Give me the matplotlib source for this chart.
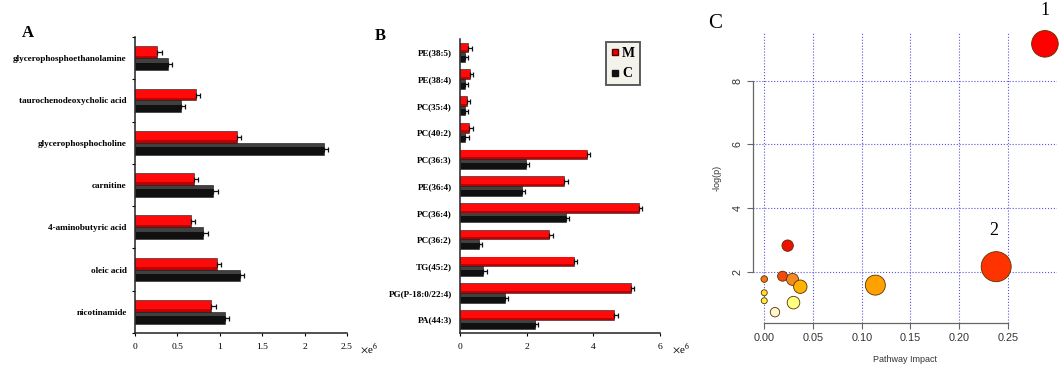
import numpy as np
import matplotlib
matplotlib.use('Agg')
import matplotlib.pyplot as plt
from matplotlib.lines import Line2D

plt.rcParams['mathtext.fontset'] = 'stix'
serif = 'Liberation Serif'
sans = 'Liberation Sans'

# panel A
a_names = ['glycerophosphoethanolamine', 'taurochenodeoxycholic acid', 'glycerophosphocholine',
           'carnitine', '4-aminobutyric acid', 'oleic acid', 'nicotinamide']
a_m = [0.26, 0.72, 1.20, 0.69, 0.66, 0.97, 0.90]
a_c = [0.39, 0.54, 2.23, 0.92, 0.80, 1.24, 1.06]
a_m_err = [0.06, 0.05, 0.05, 0.05, 0.05, 0.05, 0.05]
a_c_err = [0.05, 0.05, 0.05, 0.06, 0.06, 0.05, 0.05]

# panel B
b_names = ['PE(38:5)', 'PE(38:4)', 'PC(35:4)', 'PC(40:2)', 'PC(36:3)', 'PE(36:4)',
           'PC(36:4)', 'PC(36:2)', 'TG(45:2)', 'PG(P-18:0/22:4)', 'PA(44:3)']
b_m = [0.25, 0.30, 0.20, 0.28, 3.80, 3.13, 5.36, 2.68, 3.41, 5.12, 4.63]
b_c = [0.15, 0.15, 0.14, 0.16, 1.98, 1.85, 3.17, 0.57, 0.70, 1.35, 2.25]
b_m_err = [0.1] * 11
b_c_err = [0.1] * 11

# panel C
impact = [0.288, 0.238, 0.024, 0.0188, 0.029, 0.037, 0.114, 0.0, 0.0, 0.0, 0.030, 0.011]
logp = [9.16, 2.16, 2.82, 1.86, 1.76, 1.53, 1.58, 1.77, 1.34, 1.09, 1.03, 0.73]
node_r = [13.3, 15, 5.7, 5, 6, 6.7, 10, 3.3, 3, 3, 6.3, 4.7]
node_col = ['#ff0000', '#ff3300', '#ee1100', '#f04a10', '#f58a20', '#ffb300', '#ffa200',
            '#f07818', '#ffe030', '#fff040', '#ffff80', '#fbf8d0']
labeled = {0: '1', 1: '2'}

W, H = 1062, 366
fig = plt.figure(figsize=(W / 100, H / 100), dpi=100)


def px_axes(l, t, r, b):
    return fig.add_axes([l / W, 1 - b / H, (r - l) / W, (b - t) / H])


def bars(ax, names, m, c, m_err, c_err, h):
    n = len(names)
    y = np.arange(n)[::-1]
    for vals, err, off, col, hi, hh in [(m, m_err, h / 2, '#c00000', '#ff0a0a', 0.7),
                                        (c, c_err, -h / 2, '#101010', '#404040', 0.3)]:
        ax.barh(y + off, vals, height=h, color=col, edgecolor='#222222', linewidth=0.4,
                xerr=[np.zeros(n), err], error_kw=dict(ecolor='#111111', elinewidth=0.9,
                                                       capsize=1.8, capthick=0.9))
        # lighter upper part of the bar
        ax.barh(y + off + h * (0.5 - hh / 2 - 0.08), vals, height=h * hh, color=hi,
                linewidth=0)
    ax.set_yticks(y)
    ax.set_yticklabels(names, family=serif, fontweight='bold', fontsize=6.6)
    ax.set_ylim(-0.5, n - 0.5)
    for s in ['top', 'right']:
        ax.spines[s].set_visible(False)
    for s in ['left', 'bottom']:
        ax.spines[s].set_linewidth(1.1)
        ax.spines[s].set_color('#222222')
    ax.tick_params(axis='y', length=0, pad=6)
    ax.tick_params(axis='x', length=2.5, width=0.8, labelsize=6.5, pad=5)


# A
axA = px_axes(135, 37, 347, 333)
bars(axA, a_names, a_m, a_c, a_m_err, a_c_err, 0.28)
axA.set_xlim(0, 2.5)
axA.set_xticks([0, 0.5, 1, 1.5, 2, 2.5])
axA.set_xticklabels(['0', '0.5', '1', '1.5', '2', '2.5'], family=serif, fontsize=6.8)
axA.set_yticks(np.arange(-0.5, len(a_names)), minor=True)
axA.tick_params(axis='y', which='minor', length=2.5, width=0.8)
axA.text(1.06, -0.055, r'$\times$e$^{6}$', transform=axA.transAxes, family=serif,
         fontsize=8, va='center', ha='left')
fig.text(28 / W, 1 - 33 / H, 'A', family=serif, fontweight='bold', fontsize=12,
         ha='center', va='center')

# B
axB = px_axes(460, 39, 660, 333)
bars(axB, b_names, b_m, b_c, b_m_err, b_c_err, 0.36)
axB.set_xlim(0, 6)
axB.set_xticks([0, 2, 4, 6])
axB.set_xticklabels(['0', '2', '4', '6'], family=serif, fontsize=6.8)
axB.text(1.06, -0.055, r'$\times$e$^{6}$', transform=axB.transAxes, family=serif,
         fontsize=8, va='center', ha='left')
fig.text(380 / W, 1 - 36 / H, 'B', family=serif, fontweight='bold', fontsize=12,
         ha='center', va='center')
handles = [Line2D([], [], marker='s', ls='', color='#ee0000', markeredgecolor='#550000',
                  markersize=4.5, label='M'),
           Line2D([], [], marker='s', ls='', color='#111111', markersize=4.5, label='C')]
leg = axB.legend(handles=handles, loc='upper left', bbox_to_anchor=(0.728, 0.99),
                 prop=dict(family=serif, weight='bold', size=10), frameon=True,
                 fancybox=False, handlelength=0.6, handletextpad=0.25, borderpad=0.35,
                 labelspacing=0.55, borderaxespad=0)
leg.get_frame().set_edgecolor('#333333')
leg.get_frame().set_linewidth(1.4)
leg.get_frame().set_facecolor('#f0f0e8')

# C
axC = px_axes(753, 33, 1057, 323)
sizes = [(2 * r * 0.72) ** 2 for r in node_r]
axC.scatter(impact, logp, s=sizes, c=node_col, edgecolors='#5a3000', linewidths=0.6,
            zorder=3, clip_on=False)
for i, t in labeled.items():
    axC.annotate(t, (impact[i], logp[i]), xytext=(-2 if i else 0, 20 if i else 18),
                 textcoords='offset points', ha='center', va='bottom', family=serif,
                 fontsize=13, annotation_clip=False)
axC.set_xlim(-0.01155, 0.3004)
axC.set_ylim(0.39, 9.50)
axC.set_xticks([0, 0.05, 0.10, 0.15, 0.20, 0.25])
axC.set_xticklabels(['0.00', '0.05', '0.10', '0.15', '0.20', '0.25'])
axC.set_yticks([2, 4, 6, 8])
axC.grid(True, color='#5555dd', linestyle=':', linewidth=0.8)
axC.set_axisbelow(True)
for s in ['top', 'right']:
    axC.spines[s].set_visible(False)
axC.spines['left'].set_bounds(2, 8)
axC.spines['bottom'].set_bounds(0, 0.25)
for s in ['left', 'bottom']:
    axC.spines[s].set_color('#666666')
    axC.spines[s].set_linewidth(0.9)
axC.tick_params(colors='#666666', length=4, width=0.8, labelsize=7.8, labelcolor='#333333')
for lab in axC.get_xticklabels() + axC.get_yticklabels():
    lab.set_family(sans)
for lab in axC.get_yticklabels():
    lab.set_rotation(90)
    lab.set_va('center')
axC.set_xlabel('Pathway Impact', family=sans, fontsize=6.5, color='#333333', labelpad=8)
axC.set_ylabel('-log(p)', family=sans, fontsize=6.5, color='#333333', labelpad=8)
fig.text(715 / W, 1 - 23 / H, 'C', family=serif, fontsize=15, ha='center', va='center')

fig.savefig('out.png', dpi=100)
